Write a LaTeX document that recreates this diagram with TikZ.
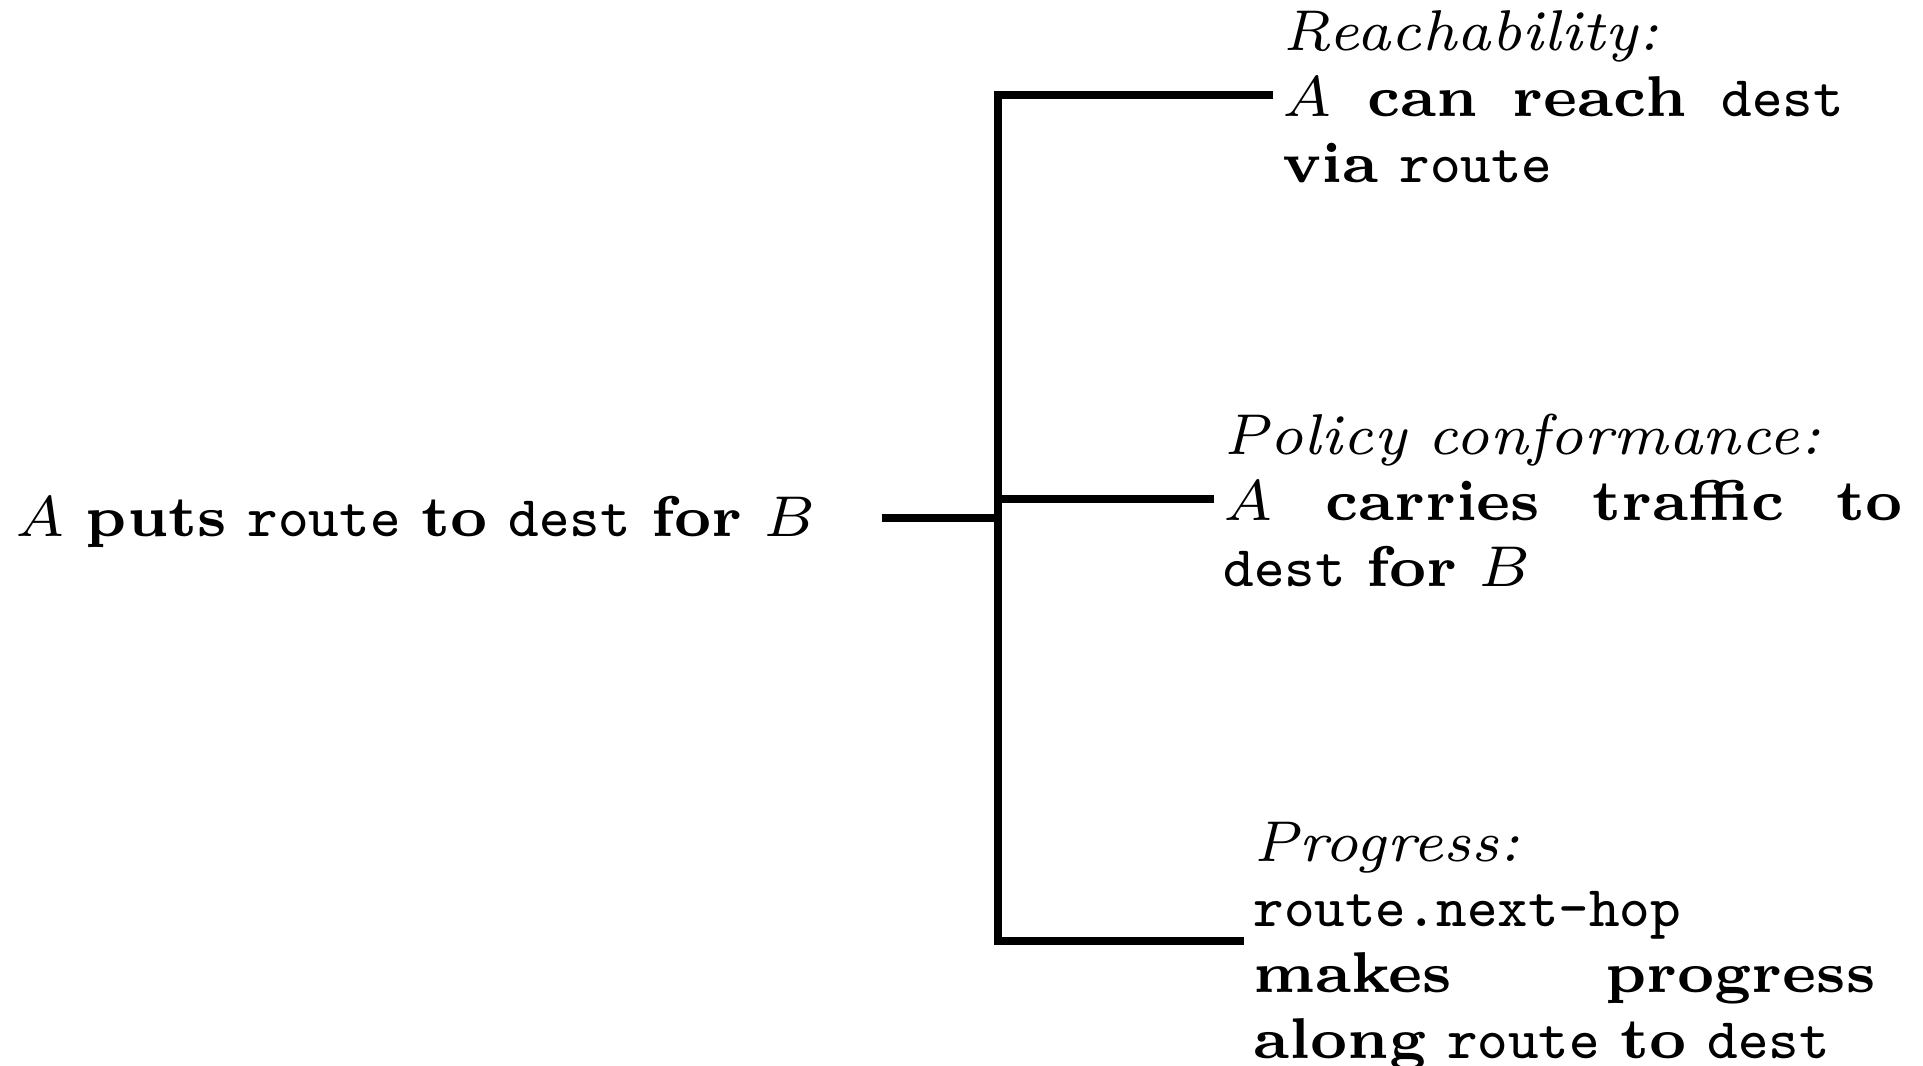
\documentclass[tikz,border=0pt]{standalone}
\newcommand{\tightspaces}{\spaceskip=\dimexpr\fontdimen2\font-0.5pt\relax plus \fontdimen3\font minus \fontdimen4\font\relax}
\tikzset{
  wire/.style={line width=0.92pt, line join=miter, line cap=butt},
  txt/.style={font=\fontsize{7}{8}\selectfont\bfseries\tightspaces},
  rootbox/.style={txt, anchor=base west, inner sep=0pt},
  leaf/.style={txt, anchor=base west, inner xsep=0.95pt, inner ysep=0pt, align=justify},
}
\newcommand{\hd}[1]{{\mdseries\itshape #1}}
\newcommand{\tx}[1]{{\mdseries\ttfamily #1}}
\begin{document}
\begin{tikzpicture}[x=0.12171pt, y=-0.12171pt]
  \useasboundingbox (0,0) rectangle (1923,1066);

  % root statement
  \node[rootbox] (root) at (14,536) {$A$ puts \tx{route} to \tx{dest} for $B$};

  % the three consequences
  \node[leaf, text width=68.3pt] (reach) at (1273,51)
    {\hd{Reachability:}\\ $A$ can reach \tx{dest}\linebreak via \tx{route}};
  \node[leaf, text width=82.7pt] (policy) at (1214,455)
    {\hd{Policy conformance:}\\ $A$ carries traffic to\linebreak \tx{dest} for $B$};
  \node[leaf, text width=75.7pt] (prog) at (1244,861)
    {\hd{Progress:}\\ \mbox{\tx{route.next-hop}}\\ makes progress\linebreak along \tx{route} to \tx{dest}};

  % junction points on the spine
  \coordinate (jtop)  at (998,95);
  \coordinate (jroot) at (998,518);
  \coordinate (jmid)  at (998,499);
  \coordinate (jbot)  at (998,941);

  % bracket
  \draw[wire] (jtop -| reach.west) -- (jtop) -- (jbot) -- (jbot -| prog.west);
  \draw[wire] (jmid) -- (jmid -| policy.west);
  \draw[wire] (root.east |- jroot) ++(65,0) -- (jroot);
\end{tikzpicture}
\end{document}
